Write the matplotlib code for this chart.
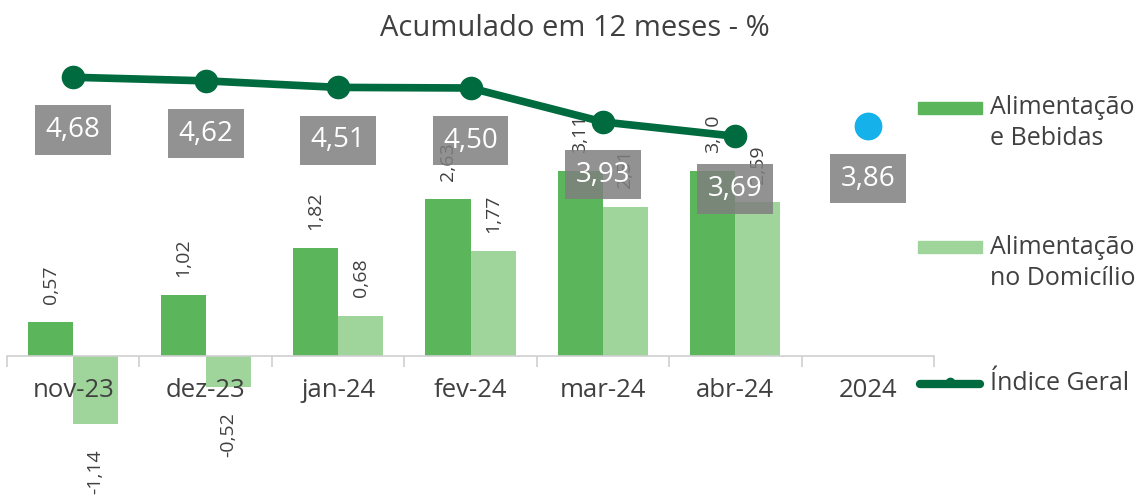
import matplotlib
matplotlib.use("Agg")
import matplotlib.pyplot as plt
import numpy as np
from matplotlib.patches import Rectangle
from matplotlib.lines import Line2D

plt.rcParams['font.family'] = ['Open Sans', 'DejaVu Sans']

# Data
categorias = ["nov-23", "dez-23", "jan-24", "fev-24", "mar-24", "abr-24", "2024"]
alim_bebidas = [0.57, 1.02, 1.82, 2.63, 3.11, 3.10]
alim_domicilio = [-1.14, -0.52, 0.68, 1.77, 2.51, 2.59]
indice_geral = [4.68, 4.62, 4.51, 4.50, 3.93, 3.69]
projecao_2024 = [3.86]
legendas = ["Alimentação\ne Bebidas", "Alimentação\nno Domicílio", "Índice Geral"]

corEscura = "#5bb55a"
corClara = "#9fd49b"
corLinha = "#006b3f"
corAzul = "#14b1ea"
corTexto = "#404040"
W, H = 1146, 499


def fmt(v):
    return "{:.2f}".format(v).replace(".", ",")


fig = plt.figure(figsize=(W / 100, H / 100), dpi=100)
ax = fig.add_axes([7 / W, 0, 927 / W, 439 / H])
ax.set_axisbelow(False)

x = np.arange(len(categorias))
w = 0.34
xm = x[:len(alim_bebidas)]

ax.bar(xm - w / 2, alim_bebidas, w, color=corEscura, zorder=2)
ax.bar(xm + w / 2, alim_domicilio, w, color=corClara, zorder=2)

# Rotated value labels above / below the bars
for serie, dx in ((alim_bebidas, -w / 2), (alim_domicilio, w / 2)):
    for xi, v in zip(xm, serie):
        ax.annotate(fmt(v), (xi + dx, v), xytext=(0, 13 if v >= 0 else -18),
                    textcoords="offset points", rotation=90,
                    ha="center", va="bottom" if v >= 0 else "top",
                    fontsize=14, color=corTexto, zorder=3)

# Índice Geral line and its gray boxed labels
ax.plot(xm, indice_geral, color=corLinha, lw=5.5, marker="o", ms=16,
        zorder=4, solid_capstyle="round")
ax.plot(x[-1:], projecao_2024, "o", color=corAzul, ms=19, zorder=4)

caixa = dict(boxstyle="square,pad=0.38", fc="#7f7f7f", ec="none", alpha=0.85)
for xi, v in zip(x, indice_geral + projecao_2024):
    ax.annotate(fmt(v), (xi, v), xytext=(0, -38), textcoords="offset points",
                ha="center", va="center", fontsize=20, color="white",
                bbox=caixa, zorder=5)

ax.set_xlim(-0.5, len(categorias) - 0.5)
ax.set_ylim(-2.40, 4.97)
ax.set_xticks(x)
ax.set_xticklabels(categorias)
ax.set_xticks(np.arange(-0.5, len(categorias)), minor=True)
ax.tick_params(axis="x", which="major", length=0, pad=16, labelsize=18.5,
               labelcolor=corTexto)
ax.tick_params(axis="x", which="minor", length=8, color="#d0d0d0", width=1.2)
ax.set_yticks([])
for lado in ("top", "right", "left"):
    ax.spines[lado].set_visible(False)
ax.spines["bottom"].set_position(("data", 0))
ax.spines["bottom"].set_color("#d0d0d0")
ax.spines["bottom"].set_linewidth(1.2)

fig.text(575 / W, 1 - 28 / H, "Acumulado em 12 meses - %", ha="center",
         va="center", fontsize=21, color=corTexto)

# Legend drawn by hand, in figure pixels
fig.add_artist(Rectangle((918 / W, 1 - 114 / H), 64 / W, 12 / H,
                         transform=fig.transFigure, color=corEscura))
fig.add_artist(Rectangle((918 / W, 1 - 253 / H), 64 / W, 12 / H,
                         transform=fig.transFigure, color=corClara))
fig.add_artist(Line2D([920 / W, 980 / W], [1 - 384 / H] * 2,
                      transform=fig.transFigure, color=corLinha, lw=6,
                      solid_capstyle="round"))
fig.add_artist(Line2D([950 / W], [1 - 382 / H], transform=fig.transFigure,
                      color=corLinha, marker="o", ms=6))
for yc, rotulo in zip([123, 263, 384], legendas):
    fig.text(990 / W, 1 - yc / H, rotulo, ha="left", va="center",
             fontsize=18, color=corTexto, linespacing=1.3)

fig.savefig("out.png", dpi=100)
